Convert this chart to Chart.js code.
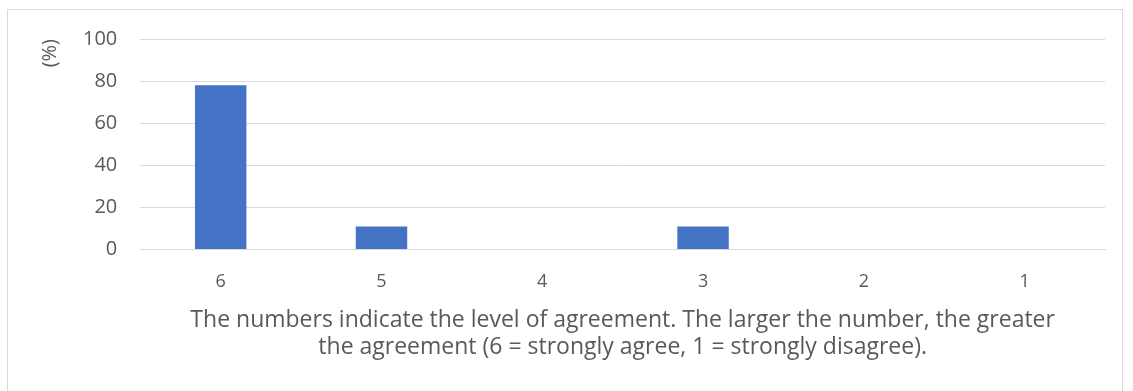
<!DOCTYPE html>
<html>
<head>
<meta charset="utf-8">
<script src="https://cdn.jsdelivr.net/npm/chart.js@4"></script>
<style>
  html, body { margin: 0; padding: 0; background: #fff; }
  #frame {
    position: absolute; left: 7px; top: 9px; width: 1116px; height: 390px;
    border: 1px solid #d9d9d9; box-sizing: border-box;
  }
  #wrap { position: absolute; left: 0; top: 0; width: 1133px; height: 391px; }
</style>
</head>
<body>
<div id="frame"></div>
<div id="wrap"><canvas id="chartAgreement"></canvas></div>
<script>
const categories = ['6', '5', '4', '3', '2', '1'];
const percentValues = [78, 11, 0, 11, 0, 0];
const yTicks = [0, 20, 40, 60, 80, 100];
const xTitle = ['The numbers indicate the level of agreement. The larger the number, the greater',
                'the agreement (6 = strongly agree, 1 = strongly disagree).'];

document.addEventListener('DOMContentLoaded', () => {
  const ctx = document.getElementById('chartAgreement');
  new Chart(ctx, {
    type: 'bar',
    data: {
      labels: categories,
      datasets: [{
        data: percentValues,
        backgroundColor: '#4472c4',
        borderWidth: 0,
        barPercentage: 0.32,
        categoryPercentage: 1
      }]
    },
    options: {
      responsive: true,
      maintainAspectRatio: false,
      animation: false,
      layout: { padding: { left: 38, right: 28, top: 39, bottom: 30 } },
      plugins: { legend: { display: false }, tooltip: { enabled: false } },
      scales: {
        x: {
          grid: { display: false },
          border: { color: '#d9d9d9', width: 1 },
          ticks: { color: '#595959', font: { family: 'Open Sans', size: 18 }, padding: 13 },
          title: {
            display: true, text: xTitle, color: '#595959',
            font: { family: 'Open Sans', size: 23, lineHeight: 1.17 }, padding: { top: 2, bottom: 0 }
          }
        },
        y: {
          min: 0, max: 100,
          afterBuildTicks: axis => { axis.ticks = yTicks.map(v => ({ value: v })); },
          grid: { color: '#d9d9d9', drawTicks: false },
          border: { display: false },
          ticks: { color: '#595959', font: { family: 'Open Sans', size: 20 }, padding: 23 },
          title: {
            display: true, text: '(%)', color: '#595959', align: 'end',
            font: { family: 'Open Sans', size: 20 }, padding: { top: 0, bottom: -2 }
          }
        }
      }
    }
  });
});
</script>
</body>
</html>
